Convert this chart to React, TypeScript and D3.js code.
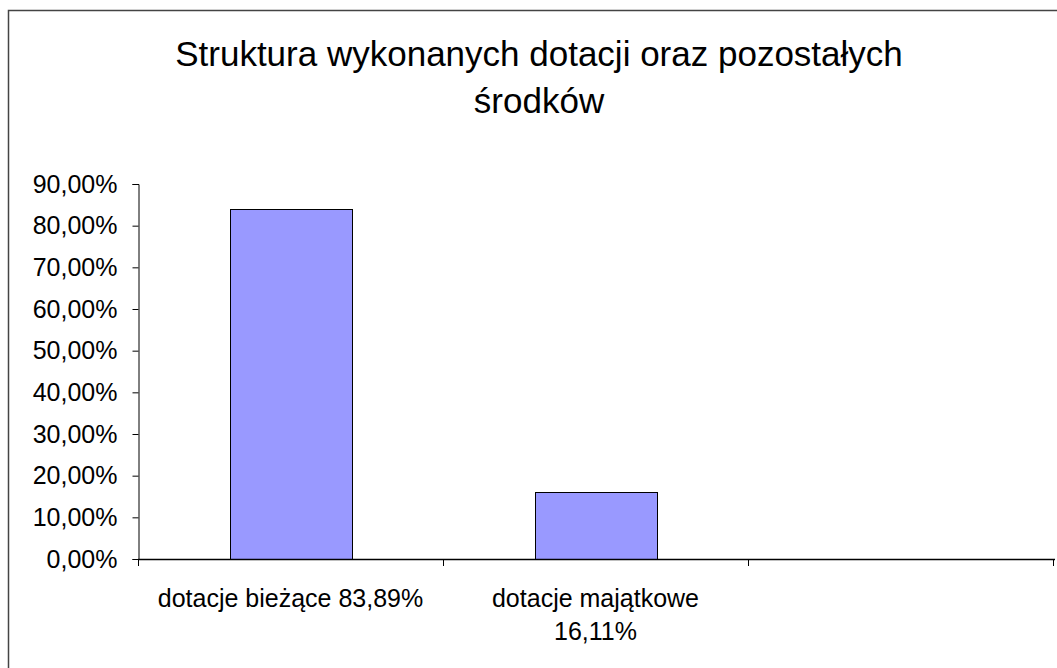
import { useEffect, useRef } from 'react';
import * as d3 from 'd3';

const TITLE_LINES = ['Struktura wykonanych dotacji oraz pozostałych', 'środków'];
const CATEGORIES = ['dotacje bieżące 83,89%', 'dotacje majątkowe 16,11%', ''];
const VALUES: (number | null)[] = [0.8389, 0.1611, null];
const Y_TICKS = [0, 0.1, 0.2, 0.3, 0.4, 0.5, 0.6, 0.7, 0.8, 0.9];

const WIDTH = 1057;
const HEIGHT = 668;
const PLOT = { left: 138, right: 1053, top: 184, bottom: 559 };

const BAR_FILL = '#9999FF';
const FONT_FAMILY = '"Liberation Sans", Arial, Helvetica, sans-serif';

const fmtPct = (v: number) => (v * 100).toFixed(2).replace('.', ',') + '%';

export default function App() {
  const svgRef = useRef<SVGSVGElement>(null);

  useEffect(() => {
    const svg = d3.select(svgRef.current);
    svg.selectAll('*').remove();
    svg.style('font-family', FONT_FAMILY);

    // chart frame: only top and left edges fall inside the picture
    svg
      .append('path')
      .attr('d', `M8.5,${HEIGHT}V10.5H${WIDTH}`)
      .attr('fill', 'none')
      .attr('stroke', '#444')
      .attr('stroke-width', 1.5);

    // title
    svg
      .append('text')
      .attr('text-anchor', 'middle')
      .style('font-size', '35px')
      .attr('fill', '#000')
      .selectAll('tspan')
      .data(TITLE_LINES)
      .join('tspan')
      .attr('x', 539)
      .attr('y', (_, i) => 66 + i * 47)
      .text((d) => d);

    const x = d3
      .scaleBand<string>()
      .domain(CATEGORIES.map((c, i) => c + '#' + i))
      .range([PLOT.left, PLOT.right])
      .padding(0);

    const y = d3.scaleLinear().domain([0, 0.9]).range([PLOT.bottom, PLOT.top]);

    const keys = x.domain();
    const barW = x.bandwidth() * 0.4;

    // bars
    svg
      .append('g')
      .selectAll('rect')
      .data(VALUES.map((v, i) => ({ v, key: keys[i] })).filter((d) => d.v != null))
      .join('rect')
      .attr('x', (d) => Math.round(x(d.key)! + (x.bandwidth() - barW) / 2) + 0.5)
      .attr('y', (d) => Math.round(y(d.v as number)) + 0.5)
      .attr('width', Math.round(barW))
      .attr('height', (d) => Math.round(y(0)) - Math.round(y(d.v as number)))
      .attr('fill', BAR_FILL)
      .attr('stroke', '#000')
      .attr('stroke-width', 1);

    // y axis
    const yAxis = d3
      .axisLeft(y)
      .tickValues(Y_TICKS)
      .tickFormat((d) => fmtPct(d as number))
      .tickSizeOuter(0)
      .tickSize(6)
      .tickPadding(15);

    const yg = svg
      .append('g')
      .attr('transform', `translate(${PLOT.left + 0.5},0)`)
      .call(yAxis);
    yg.select('.domain').attr('stroke', '#000');
    yg.selectAll('.tick line').attr('stroke', '#000');
    yg.selectAll('text')
      .style('font-size', '25px')
      .style('font-family', FONT_FAMILY)
      .attr('fill', '#000');

    // x axis: line + ticks at band boundaries
    const xg = svg.append('g');
    xg.append('line')
      .attr('x1', PLOT.left)
      .attr('x2', PLOT.right + 2)
      .attr('y1', y(0) + 0.5)
      .attr('y2', y(0) + 0.5)
      .attr('stroke', '#000')
      .attr('stroke-width', 1.5);

    const boundaries = [...keys.map((k) => x(k)!), PLOT.right];
    xg.selectAll('line.tick')
      .data(boundaries)
      .join('line')
      .attr('class', 'tick')
      .attr('x1', (d) => Math.round(d) + 0.5)
      .attr('x2', (d) => Math.round(d) + 0.5)
      .attr('y1', y(0))
      .attr('y2', y(0) + 7)
      .attr('stroke', '#000');

    // category labels, wrapped to the band width
    keys.forEach((k, i) => {
      const label = CATEGORIES[i];
      if (!label) return;
      const t = xg
        .append('text')
        .attr('text-anchor', 'middle')
        .style('font-size', '25px')
        .attr('fill', '#000');
      const cx = x(k)! + x.bandwidth() / 2;
      const words = label.split(' ');
      const lines: string[] = [];
      let cur = '';
      const probe = t.append('tspan');
      for (const w of words) {
        const next = cur ? cur + ' ' + w : w;
        probe.text(next);
        if (cur && (probe.node() as SVGTSpanElement).getComputedTextLength() > x.bandwidth() * 0.93) {
          lines.push(cur);
          cur = w;
        } else {
          cur = next;
        }
      }
      lines.push(cur);
      probe.remove();
      t.selectAll('tspan')
        .data(lines)
        .join('tspan')
        .attr('x', cx)
        .attr('y', (_, j) => 607 + j * 33)
        .text((d) => d);
    });
  }, []);

  return (
    <div style={{ position: 'fixed', left: 0, top: 0, width: WIDTH, height: HEIGHT, background: '#fff' }}>
      <svg ref={svgRef} width={WIDTH} height={HEIGHT} style={{ display: 'block' }} />
    </div>
  );
}
